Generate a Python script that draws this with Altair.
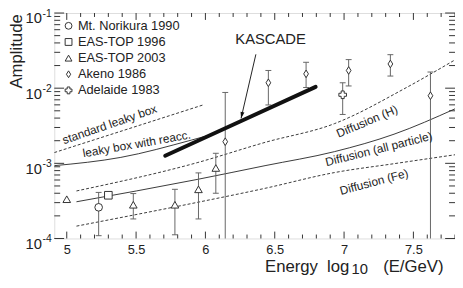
import altair as alt
import numpy as np
import pandas as pd

# ---------------- data ----------------
series_names = ["Mt. Norikura 1990", "EAS-TOP 1996", "EAS-TOP 2003", "Akeno 1986", "Adelaide 1983"]
series_shapes = ["circle", "square", "triangle-up", "M0,-1L0.62,0L0,1L-0.62,0Z", "cross"]

norikura_x = [5.23]
norikura_y = [2.6e-4]
norikura_lo = [1.09e-4]
norikura_hi = [4.1e-4]

eastop96_x = [5.30]
eastop96_y = [3.76e-4]
eastop96_lo = [None]
eastop96_hi = [None]

eastop03_x = [5.00, 5.48, 5.78, 5.95, 6.075]
eastop03_y = [3.33e-4, 2.81e-4, 2.81e-4, 4.51e-4, 8.67e-4]
eastop03_lo = [None, 1.82e-4, 1.12e-4, 1.82e-4, 4.0e-4]
eastop03_hi = [None, 3.96e-4, 4.51e-4, 7.46e-4, 1.36e-3]

akeno_x = [6.143, 6.454, 6.726, 7.033, 7.334, 7.623]
akeno_y = [1.94e-3, 1.18e-2, 1.55e-2, 1.72e-2, 2.1e-2, 7.93e-3]
akeno_lo = [1e-5, 5.98e-3, 1.02e-2, 1.07e-2, 1.45e-2, 1e-5]
akeno_hi = [8.77e-3, 1.72e-2, 2.21e-2, 2.4e-2, 2.79e-2, 1.64e-2]

adelaide_x = [6.99]
adelaide_y = [8.17e-3]
adelaide_lo = [4.47e-3]
adelaide_hi = [1.18e-2]

std_leaky_x = [4.91, 5.99]
std_leaky_y = [1.39e-3, 6.04e-3]
reacc_x = [4.91, 5.39, 5.90, 6.05]
reacc_y = [9.31e-4, 1.20e-3, 2.04e-3, 2.43e-3]
diff_h_x = [5.07, 5.94, 6.43, 6.93, 7.45, 7.80]
diff_h_y = [4.29e-4, 1.02e-3, 1.90e-3, 3.37e-3, 1.02e-2, 2.38e-2]
diff_all_x = [5.07, 5.94, 6.43, 6.93, 7.36, 7.80]
diff_all_y = [3.08e-4, 6.10e-4, 9.31e-4, 1.43e-3, 2.44e-3, 5.31e-3]
diff_fe_x = [5.07, 5.94, 6.43, 6.93, 7.36, 7.80]
diff_fe_y = [1.46e-4, 3.02e-4, 4.65e-4, 7.53e-4, 9.89e-4, 1.30e-3]

kascade_x = [5.71, 6.25, 6.795]
kascade_y = [1.26e-3, 3.6e-3, 1.04e-2]
arrow_x = [6.364, 6.257]
arrow_y = [2.82e-2, 3.96e-3]

label_texts = ["standard leaky box", "leaky box with reacc.", "Diffusion (H)",
               "Diffusion (all particle)", "Diffusion (Fe)"]
label_x = [5.309, 5.504, 7.166, 7.251, 7.216]
label_y = [3.30e-3, 1.81e-3, 3.61e-3, 1.55e-3, 5.65e-4]
label_angle = [341, 350, 337, 346, 345]

x_label_values = [5.0, 5.5, 6.0, 6.5, 7.0, 7.5]
y_decades = [-1, -2, -3, -4]

# ---------------- layout ----------------
W, H = 407, 229
FONT = "Liberation Sans"
INK = "#222222"
GREY = "#666666"

xs = alt.Scale(domain=[4.91, 7.8], nice=False, zero=False)
ys = alt.Scale(type="log", domain=[1e-4, 1e-1], nice=False)

x_axis = alt.Axis(values=x_label_values, format="~g", grid=False, domain=False, ticks=False,
                  tickSize=0, labelFont=FONT, labelFontSize=13, labelColor=INK,
                  labelPadding=5, labelFlush=False, title=None)
y_axis = alt.Axis(values=[10.0 ** d for d in y_decades], labelExpr="'10'", grid=False,
                  domain=False, ticks=False, tickSize=0, labelFont=FONT, labelFontSize=15,
                  labelColor=INK, labelPadding=13, labelOffset=5, labelFlush=False,
                  labelBound=False, labelOverlap=False, title=None)


def X(field="x"):
    return alt.X(f"{field}:Q", scale=xs, axis=x_axis)


def Y(field="y"):
    return alt.Y(f"{field}:Q", scale=ys, axis=y_axis)


def curve(xv, yv, dashed):
    df = pd.DataFrame({"x": xv, "y": yv})
    kw = {"strokeDash": [3, 2]} if dashed else {}
    return alt.Chart(df).mark_line(color=INK, strokeWidth=0.9, clip=True,
                                   interpolate="monotone", **kw).encode(
        x=X(), y=Y(), order=alt.Order("x:Q"))


# points / error bars
pts_rows, err_rows, cap_rows = [], [], []
for name, xv, yv, lo, hi in [
    (series_names[0], norikura_x, norikura_y, norikura_lo, norikura_hi),
    (series_names[1], eastop96_x, eastop96_y, eastop96_lo, eastop96_hi),
    (series_names[2], eastop03_x, eastop03_y, eastop03_lo, eastop03_hi),
    (series_names[3], akeno_x, akeno_y, akeno_lo, akeno_hi),
    (series_names[4], adelaide_x, adelaide_y, adelaide_lo, adelaide_hi),
]:
    for a, b, l, h in zip(xv, yv, lo, hi):
        pts_rows.append({"x": a, "y": b, "series": name})
        if l is not None and h is not None:
            err_rows.append({"x": a, "lo": l, "hi": h})
            for c in (l, h):
                if c >= 1e-4:
                    cap_rows.append({"x": a, "y": c})

pts = pd.DataFrame(pts_rows)
errs = pd.DataFrame(err_rows)
caps = pd.DataFrame(cap_rows)

err_layer = alt.Chart(errs).mark_rule(color=GREY, strokeWidth=1, clip=True).encode(
    x=X(), y=Y("lo"), y2="hi:Q")
cap_layer = alt.Chart(caps).mark_point(shape="stroke", size=36, filled=False, color=GREY,
                                       strokeWidth=1, opacity=1).encode(x=X(), y=Y())

shape_scale = alt.Scale(domain=series_names, range=series_shapes)
pt_layer = alt.Chart(pts).mark_point(filled=False, color="#333333", fill="white", strokeWidth=1,
                                     size=60, opacity=1).encode(
    x=X(), y=Y(), shape=alt.Shape("series:N", scale=shape_scale, legend=None))

# legend drawn as marks (symbol + label per row)
LEG_X, LEG_Y0, LEG_DY = 14.5, 13, 16.4
legend_layers = []
for i, (name, shp) in enumerate(zip(series_names, series_shapes)):
    row = pd.DataFrame({"t": [name]})
    legend_layers.append(alt.Chart(row).mark_point(
        shape=shp, size=48, filled=False, color="#333333", fill="white", strokeWidth=1,
        opacity=1).encode(x=alt.value(LEG_X), y=alt.value(LEG_Y0 + i * LEG_DY)))
    legend_layers.append(alt.Chart(row).mark_text(
        font=FONT, fontSize=13, color=INK, align="left", baseline="middle").encode(
        text="t:N", x=alt.value(LEG_X + 9.5), y=alt.value(LEG_Y0 + i * LEG_DY)))

kascade_layer = alt.Chart(pd.DataFrame({"x": kascade_x, "y": kascade_y})).mark_line(
    color="#111111", strokeWidth=4, strokeCap="round").encode(x=X(), y=Y())
arrow_layer = alt.Chart(pd.DataFrame({"x": arrow_x, "y": arrow_y})).mark_line(
    color=INK, strokeWidth=1).encode(x=X(), y=Y())
arrow_head = alt.Chart(pd.DataFrame({"x": arrow_x[1:], "y": arrow_y[1:]})).mark_point(
    shape="M0,0L-0.8,-2.6L0.8,-2.6Z", size=25, filled=True, color="#111111", opacity=1,
    angle=13).encode(x=X(), y=Y())

kascade_text = alt.Chart(pd.DataFrame({"x": [6.47], "y": [4.5e-2], "t": ["KASCADE"]})).mark_text(
    font=FONT, fontSize=15, color=INK, baseline="middle").encode(x=X(), y=Y(), text="t:N")

ann = pd.DataFrame({"x": label_x, "y": label_y, "t": label_texts, "a": label_angle})
ann_layer = alt.Chart(ann).mark_text(font=FONT, fontSize=12, color=INK, baseline="middle").encode(
    x=X(), y=Y(), text="t:N", angle=alt.Angle("a:Q", scale=None))

# exponents of y labels
exp_df = pd.DataFrame({"y": [10.0 ** d for d in y_decades], "t": [str(d) for d in y_decades]})
exp_layer = alt.Chart(exp_df).mark_text(font=FONT, fontSize=10.5, color=INK, align="left",
                                        baseline="middle", dy=1).encode(
    x=alt.value(-12), y=Y(), text="t:N")


def txt(t, x, y, size, align="left", angle=0):
    return alt.Chart(pd.DataFrame({"t": [t]})).mark_text(
        font=FONT, fontSize=size, color=INK, align=align, baseline="middle", angle=angle).encode(
        text="t:N", x=alt.value(x), y=alt.value(y))


y_title = txt("Amplitude", -38, 39, 17, align="center", angle=270)
xt1 = txt("Energy", 214, 258, 17)
xt2 = txt("log", 277, 258, 17)
xt3 = txt("10", 302, 260, 15)
xt4 = txt("(E/GeV)", 334, 258, 17)

# inward ticks
x_major = [5.0, 5.5, 6.0, 6.5, 7.0, 7.5]
x_minor = [round(v, 1) for v in np.arange(5.0, 7.81, 0.1) if round(v * 2, 3) % 1 != 0]
y_major = [1e-4, 1e-3, 1e-2, 1e-1]
y_minor = [k * 10.0 ** d for d in (-4, -3, -2) for k in range(2, 10)]


def xticks(vals, length, top):
    c = alt.Chart(pd.DataFrame({"x": vals})).mark_rule(color="#333333", strokeWidth=1)
    if top:
        return c.encode(x=X(), y=alt.value(0), y2=alt.value(length))
    return c.encode(x=X(), y=alt.value(H), y2=alt.value(H - length))


def yticks(vals, length, right):
    c = alt.Chart(pd.DataFrame({"y": vals})).mark_rule(color="#333333", strokeWidth=1)
    if right:
        return c.encode(y=Y(), x=alt.value(W), x2=alt.value(W - length))
    return c.encode(y=Y(), x=alt.value(0), x2=alt.value(length))


ticks = [xticks(x_major, 7, True), xticks(x_major, 7, False),
         xticks(x_minor, 4, True), xticks(x_minor, 4, False),
         yticks(y_major, 10, False), yticks(y_major, 10, True),
         yticks(y_minor, 6, False), yticks(y_minor, 6, True)]

chart = alt.layer(
    *ticks,
    curve(std_leaky_x, std_leaky_y, True),
    curve(reacc_x, reacc_y, False),
    curve(diff_h_x, diff_h_y, True),
    curve(diff_all_x, diff_all_y, False),
    curve(diff_fe_x, diff_fe_y, True),
    err_layer, cap_layer, pt_layer,
    kascade_layer, arrow_layer, arrow_head, kascade_text, ann_layer,
    *legend_layers,
    exp_layer, y_title, xt1, xt2, xt3, xt4,
).properties(
    width=W, height=H,
    autosize=alt.AutoSizeParams(type="none"),
    padding={"left": 47, "top": 3, "right": 0, "bottom": 36},
).configure_view(stroke="#333333", strokeWidth=1).configure(background="white")

chart.save("out.html", embed_options={"renderer": "svg", "actions": False})
